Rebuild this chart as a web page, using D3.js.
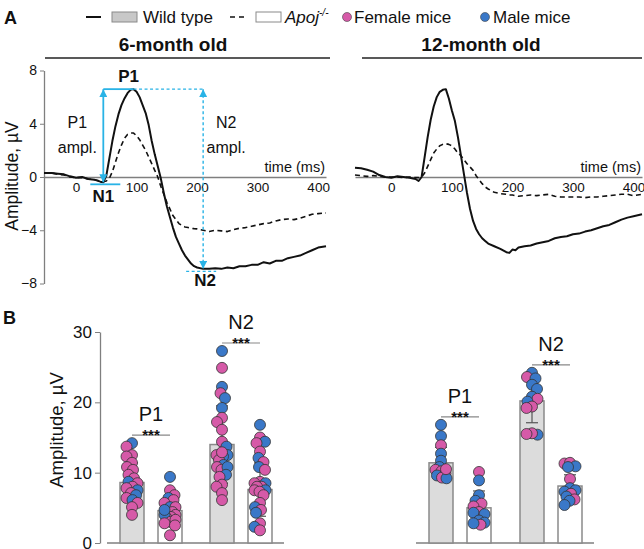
<!DOCTYPE html>
<html><head><meta charset="utf-8">
<script src="https://cdn.jsdelivr.net/npm/d3@7"></script>
<style>body{margin:0;background:#fff} svg{display:block} text{font-family:"Liberation Sans",Arial,sans-serif}</style>
</head><body><svg id="c" width="644" height="549"></svg>
<script>
// ---------- DATA ----------
// Panel A: VEP waveforms (time in ms, amplitude in µV)
const t6 = [-53,-40,-30,-20,-10,0,10,20,30,40,45,50,55,60,65,70,75,80,85,90,95,100,105,110,115,120,125,130,135,140,145,150,155,160,165,170,175,180,185,190,195,200,210,220,230,240,250,260,270,280,290,300,310,320,330,340,350,360,370,380,390,400,413];
const wt6 = [0.3,0.3,0.25,0.2,0.05,-0.05,0.0,-0.15,-0.2,-0.35,-0.4,0.1,1.4,2.7,3.8,4.7,5.4,5.9,6.3,6.55,6.6,6.4,6.0,5.4,4.8,3.9,2.7,1.7,0.8,-0.1,-1.2,-2.2,-3.0,-3.8,-4.5,-5.0,-5.5,-5.9,-6.2,-6.5,-6.7,-6.8,-6.9,-6.9,-6.85,-6.9,-6.8,-6.85,-6.7,-6.7,-6.6,-6.6,-6.4,-6.5,-6.3,-6.3,-6.1,-6.0,-5.9,-5.7,-5.5,-5.3,-5.2];
const ko6 = [0.3,0.3,0.2,0.15,0.0,-0.05,-0.05,-0.15,-0.2,-0.3,-0.35,-0.3,-0.1,0.4,1.1,1.8,2.4,2.9,3.2,3.3,3.3,3.1,2.8,2.4,2.0,1.5,1.0,0.5,0.0,-0.7,-1.3,-1.9,-2.4,-2.9,-3.2,-3.5,-3.65,-3.75,-3.8,-3.85,-3.88,-3.9,-4.0,-4.1,-4.0,-4.05,-4.1,-3.95,-3.85,-3.8,-3.7,-3.6,-3.5,-3.45,-3.3,-3.2,-3.15,-3.2,-3.1,-2.95,-2.8,-2.75,-2.7];
const t12 = [-60,-50,-40,-30,-20,-10,0,10,20,30,40,45,50,55,60,65,70,75,80,85,90,95,100,105,110,115,120,125,130,135,140,145,150,155,160,170,180,190,195,200,205,210,220,230,240,250,260,270,280,290,300,310,320,330,340,350,360,370,380,390,400,414];
const wt12 = [0.7,0.65,0.55,0.4,0.15,0.0,-0.05,0.05,0.0,-0.05,-0.15,-0.3,0.0,1.5,3.0,4.3,5.3,6.0,6.4,6.55,6.6,5.9,5.0,4.2,3.0,1.6,0.2,-1.2,-2.4,-3.3,-3.9,-4.3,-4.6,-4.8,-5.0,-5.2,-5.4,-5.65,-5.7,-5.45,-5.5,-5.3,-5.2,-5.15,-5.0,-4.9,-4.8,-4.6,-4.5,-4.45,-4.3,-4.25,-4.1,-4.0,-3.85,-3.7,-3.6,-3.4,-3.2,-3.05,-2.95,-2.8];
const ko12 = [0.15,0.1,0.05,0.1,0.05,0.0,0.0,0.0,-0.05,0.0,-0.05,-0.05,0.0,0.3,0.8,1.3,1.8,2.1,2.35,2.45,2.5,2.45,2.35,2.1,1.8,1.6,1.3,1.0,0.75,0.5,0.1,-0.2,-0.5,-0.75,-0.9,-1.15,-1.25,-1.3,-1.35,-1.35,-1.4,-1.45,-1.4,-1.35,-1.4,-1.35,-1.3,-1.45,-1.5,-1.5,-1.5,-1.5,-1.55,-1.5,-1.5,-1.45,-1.4,-1.35,-1.3,-1.3,-1.4,-1.3];
const timeTicks = [0,100,200,300,400];
const ampTicksA = [-8,-4,0,4,8];

// Panel B: individual amplitudes (µV) and sex (F/M)
const measures = ["P1","N2"];
const genotypes = ["WT","Apoj"];
const wtP1_6 = [14.2,13.7,12.5,12.3,11.4,10.8,10.4,9.7,9.2,8.7,8.5,8.0,7.5,7.8,7.1,6.8,6.4,6.1,5.7,5.1,4.0];
const wtP1_6s = ["M","F","F","F","F","F","F","F","F","M","F","F","M","F","F","M","F","M","F","F","F"];
const koP1_6 = [9.4,7.5,6.8,6.4,6.1,5.7,5.1,5.1,4.3,4.4,4.0,3.7,3.5,4.0,3.0,2.8,1.1,3.3,4.7,2.5];
const koP1_6s = ["M","F","F","M","F","F","M","F","M","F","F","F","F","M","F","F","F","F","M","F"];
const wtN2_6 = [27.3,24.9,22.2,21.3,20.6,19.2,17.8,17.2,16.1,14.4,13.7,12.5,12.5,12.3,11.8,11.1,10.8,10.4,10.8,9.7,9.4,8.3,8.0,7.1,6.1,12.9];
const wtN2_6s = ["M","F","M","F","M","M","F","F","F","F","M","M","F","M","F","M","F","F","M","M","F","F","F","F","F","F"];
const koN2_6 = [16.8,15.0,14.4,14.2,13.0,12.1,11.5,10.8,10.4,8.7,8.5,8.5,8.0,8.0,7.5,7.5,7.3,6.8,5.7,5.1,4.7,2.8,2.3,1.8,4.3];
const koN2_6s = ["M","F","M","F","F","M","F","M","F","F","M","F","F","F","M","F","F","F","F","M","F","F","M","F","M"];
const wtP1_12 = [16.8,15.2,13.9,12.7,11.7,10.8,10.4,10.2,9.9,9.6,9.3,9.2,10.5];
const wtP1_12s = ["M","M","F","M","M","M","F","F","F","M","F","M","F"];
const koP1_12 = [10.1,8.9,6.8,6.0,5.6,5.2,4.4,4.3,4.1,3.2,2.9,2.6,2.8];
const koP1_12s = ["F","M","M","M","F","F","F","M","M","M","M","F","M"];
const wtN2_12 = [24.2,23.6,23.4,22.5,21.9,20.8,20.5,20.1,19.4,19.2,15.4,15.6,15.5];
const wtN2_12s = ["M","F","M","M","M","M","F","M","F","F","M","F","F"];
const koN2_12 = [11.3,11.4,10.9,10.8,9.1,7.8,7.5,7.3,7.0,6.6,6.2,6.0,5.4];
const koN2_12s = ["F","F","M","M","F","M","M","M","F","M","F","M","M"];
// bar means and SD (µV) : [WT P1, Apoj P1, WT N2, Apoj N2]
const mean6 = [8.6,4.6,14.0,7.6];
const sd6 = [2.8,2.0,5.5,3.8];
const mean12 = [11.4,5.0,20.2,8.1];
const sd12 = [2.2,2.4,3.1,1.6];
const ampTicksB = [0,10,20,30];

// ---------- STYLE ----------
const FONT = '"Liberation Sans", Arial, sans-serif';
const CYAN = "#29b3e6", PINK = "#d65aa8", BLUE = "#3a78c8", AX = "#7f7f7f", INK = "#111";
const svg = d3.select("#c");

function txt(x, y, s, o = {}) {
  const t = svg.append("text").attr("x", x).attr("y", y).text(s)
    .attr("font-size", o.size || 16).attr("fill", o.fill || INK)
    .attr("text-anchor", o.anchor || "start");
  if (o.bold) t.attr("font-weight", "bold");
  if (o.italic) t.attr("font-style", "italic");
  return t;
}

// ---------- LEGEND ----------
txt(4, 24, "A", {size: 18, bold: true});
svg.append("line").attr("x1", 86).attr("x2", 101).attr("y1", 17).attr("y2", 17).attr("stroke", INK).attr("stroke-width", 2);
svg.append("rect").attr("x", 112).attr("y", 12).attr("width", 25).attr("height", 10).attr("fill", "#c8c8c8").attr("stroke", "#8a8a8a");
txt(143, 23, "Wild type", {size: 17});
svg.append("line").attr("x1", 230).attr("x2", 247).attr("y1", 17).attr("y2", 17).attr("stroke", INK).attr("stroke-width", 1.6).attr("stroke-dasharray", "5,4");
svg.append("rect").attr("x", 256).attr("y", 12).attr("width", 25).attr("height", 10).attr("fill", "#fff").attr("stroke", "#8a8a8a");
const ap = txt(285, 23, "", {size: 17, italic: true});
ap.append("tspan").text("Apoj");
ap.append("tspan").attr("font-size", 10).attr("dy", -7).text("-/-");
svg.append("circle").attr("cx", 347).attr("cy", 17).attr("r", 4.5).attr("fill", PINK).attr("stroke", "#444").attr("stroke-width", 0.6);
txt(354, 23, "Female mice", {size: 17});
svg.append("circle").attr("cx", 485).attr("cy", 17).attr("r", 4.5).attr("fill", BLUE).attr("stroke", "#444").attr("stroke-width", 0.6);
txt(493, 23, "Male mice", {size: 17});

// headers
txt(173, 51, "6-month old", {size: 19, bold: true, anchor: "middle"});
svg.append("line").attr("x1", 45).attr("x2", 330).attr("y1", 58).attr("y2", 58).attr("stroke", "#222").attr("stroke-width", 1.5);
txt(481, 51, "12-month old", {size: 19, bold: true, anchor: "middle"});
svg.append("line").attr("x1", 362).attr("x2", 642).attr("y1", 58).attr("y2", 58).attr("stroke", "#222").attr("stroke-width", 1.5);

// ---------- PANEL A ----------
const yA = d3.scaleLinear().domain([-8, 8]).range([283.5, 70.5]);
const xA1 = d3.scaleLinear().domain([-53, 413]).range([44, 326]);
const xA2 = d3.scaleLinear().domain([-60, 414]).range([355, 642]);

function styleAxis(g, size) {
  g.attr("font-family", FONT).attr("font-size", size);
  g.select(".domain").attr("stroke", AX);
  g.selectAll(".tick line").attr("stroke", AX);
  g.selectAll(".tick text").attr("fill", INK);
}

[xA1, xA2].forEach(xs => {
  const g = svg.append("g").attr("transform", `translate(0,${yA(0)})`)
    .call(d3.axisBottom(xs).tickValues(timeTicks).tickSize(0).tickPadding(5).tickSizeOuter(0));
  styleAxis(g, 13.5);
  g.select(".domain").attr("stroke-width", 1.5);
  txt(xs.range()[1] - 1, 172, "time (ms)", {size: 14.5, anchor: "end"});
});

const gyA = svg.append("g").attr("transform", `translate(${xA1.range()[0]},0)`)
  .call(d3.axisLeft(yA).tickValues(ampTicksA).tickSize(4).tickPadding(3).tickSizeOuter(0));
styleAxis(gyA, 14);
gyA.select(".domain").attr("stroke-width", 1.3);
svg.append("text").attr("transform", "translate(18,176) rotate(-90)").attr("text-anchor", "middle")
  .attr("font-size", 17.5).attr("fill", INK).text("Amplitude, µV");

function wave(xs, t, v, dashed) {
  const line = d3.line().x((d, i) => xs(t[i])).y(d => yA(d));
  svg.append("path").datum(v).attr("d", line).attr("fill", "none")
    .attr("stroke", INK).attr("stroke-width", dashed ? 1.6 : 2)
    .attr("stroke-linejoin", "round")
    .attr("stroke-dasharray", dashed ? "5,3.5" : null);
}
wave(xA1, t6, ko6, true);
wave(xA1, t6, wt6, false);
wave(xA2, t12, ko12, true);
wave(xA2, t12, wt12, false);

// annotations (from WT 6-month waveform)
const defs = svg.append("defs");
defs.append("marker").attr("id", "arr").attr("viewBox", "0 0 10 10").attr("refX", 10).attr("refY", 5)
  .attr("markerWidth", 8).attr("markerHeight", 8).attr("markerUnits", "userSpaceOnUse")
  .attr("orient", "auto-start-reverse")
  .append("path").attr("d", "M0,0L10,5L0,10z").attr("fill", CYAN);

const iP1 = d3.maxIndex(wt6);
const iN1 = d3.minIndex(wt6.slice(0, iP1));
const iN2 = iP1 + d3.minIndex(wt6.slice(iP1));
const xN1 = xA1(t6[iN1]), xP1 = xA1(t6[iP1]), xN2 = xA1(t6[iN2]);
const yN1 = yA(wt6[iN1]), yP1 = yA(wt6[iP1]), yN2 = yA(wt6[iN2]);
function seg(x1, y1, x2, y2, dashed, arrows) {
  const l = svg.append("line").attr("x1", x1).attr("y1", y1).attr("x2", x2).attr("y2", y2)
    .attr("stroke", CYAN).attr("stroke-width", dashed ? 1.4 : 1.8);
  if (dashed) l.attr("stroke-dasharray", "3,2.5");
  if (arrows) l.attr("marker-start", "url(#arr)").attr("marker-end", "url(#arr)");
}
seg(xN1, yP1, xP1, yP1, false, false);
seg(xN1 - 13, yN1 + 2, xN1 + 17, yN1 + 2, false, false);
seg(xN1, yN1, xN1, yP1, false, true);
seg(xP1, yP1, xN2, yP1, true, false);
seg(xN2 - 17, yN2 + 2.5, xN2 + 13, yN2 + 2.5, true, false);
seg(xN2, yP1, xN2, yN2, true, true);

txt(xP1 - 5, yP1 - 7, "P1", {size: 17, bold: true, anchor: "middle"});
txt(xN1, yN1 + 20, "N1", {size: 17, bold: true, anchor: "middle"});
txt(xN2 + 2, yN2 + 17, "N2", {size: 17, bold: true, anchor: "middle"});
txt(xN1 - 26, 128, "P1", {size: 16, anchor: "middle"});
txt(xN1 - 26, 153, "ampl.", {size: 16, anchor: "middle"});
txt(xN2 + 23, 128, "N2", {size: 16, anchor: "middle"});
txt(xN2 + 23, 153, "ampl.", {size: 16, anchor: "middle"});

// ---------- PANEL B ----------
txt(3, 324, "B", {size: 18, bold: true});
const yB = d3.scaleLinear().domain([0, 30]).range([543, 332]);
const gyB = svg.append("g").attr("transform", "translate(100,0)")
  .call(d3.axisLeft(yB).tickValues(ampTicksB).tickSize(5).tickPadding(3).tickSizeOuter(0));
styleAxis(gyB, 17);
gyB.select(".domain").attr("stroke-width", 1.3);
svg.append("text").attr("transform", "translate(63,430) rotate(-90)").attr("text-anchor", "middle")
  .attr("font-size", 18.5).attr("fill", INK).text("Amplitude, µV");

const inner = d3.scalePoint().domain(genotypes).range([-19, 19]);
const BW = 24;

function swarm(vals, cx, minD, maxOff) {
  const pts = vals.map((v, i) => ({v, i, y: yB(v), x: cx}));
  const order = pts.slice().sort((a, b) => a.y - b.y);
  const placed = [];
  order.forEach((p, k) => {
    let chosen = null, best = -1, bestOff = 0;
    const sgn = k % 2 ? -1 : 1;
    for (let s = 0; s <= maxOff * 2; s++) {
      const mag = Math.ceil(s / 2) * 0.5;
      const off = (s % 2 ? sgn : -sgn) * mag;
      let md = Infinity;
      placed.forEach(q => { md = Math.min(md, Math.hypot(q.x - (cx + off), q.y - p.y)); });
      if (md >= minD) { chosen = off; break; }
      if (md > best) { best = md; bestOff = off; }
    }
    p.x = cx + (chosen === null ? bestOff : chosen);
    placed.push(p);
  });
  return pts;
}

function panelB(xOuter, groups, means, sds) {
  const r = xOuter.range();
  svg.append("line").attr("x1", r[0] - 44).attr("x2", r[1] + 43).attr("y1", yB(0)).attr("y2", yB(0))
    .attr("stroke", AX).attr("stroke-width", 1.5);
  const cells = [];
  measures.forEach((m, mi) => genotypes.forEach((g, gi) => {
    const k = mi * 2 + gi;
    cells.push({m, g, cx: xOuter(m) + inner(g), mean: means[k], sd: sds[k], vals: groups[k][0], sex: groups[k][1]});
  }));
  cells.forEach(c => {
    svg.append("rect").attr("x", c.cx - BW / 2).attr("width", BW)
      .attr("y", yB(c.mean)).attr("height", yB(0) - yB(c.mean))
      .attr("fill", c.g === "WT" ? "#dcdcdc" : "#fff").attr("stroke", "#8a8a8a").attr("stroke-width", 1.5);
  });
  cells.forEach(c => {
    const e = svg.append("g").attr("stroke", "#555").attr("stroke-width", 1.2);
    e.append("line").attr("x1", c.cx).attr("x2", c.cx).attr("y1", yB(c.mean - c.sd)).attr("y2", yB(c.mean + c.sd));
    [c.mean - c.sd, c.mean + c.sd].forEach(v =>
      e.append("line").attr("x1", c.cx - 6).attr("x2", c.cx + 6).attr("y1", yB(v)).attr("y2", yB(v)));
  });
  cells.forEach(c => {
    const pts = swarm(c.vals, c.cx, 6.5, 11);
    svg.append("g").selectAll("circle").data(pts).join("circle")
      .attr("cx", d => d.x).attr("cy", d => d.y).attr("r", 5.5)
      .attr("fill", d => c.sex[d.i] === "F" ? PINK : BLUE)
      .attr("stroke", "#333").attr("stroke-width", 0.8);
  });
  measures.forEach((m, mi) => {
    const a = cells[mi * 2], b = cells[mi * 2 + 1];
    const top = d3.max(a.vals.concat(b.vals));
    const ly = yB(top) - 8;
    svg.append("line").attr("x1", a.cx).attr("x2", b.cx).attr("y1", ly).attr("y2", ly)
      .attr("stroke", "#888").attr("stroke-width", 1.2);
    txt((a.cx + b.cx) / 2, ly + 5, "***", {size: 15, bold: true, anchor: "middle"});
    txt((a.cx + b.cx) / 2, ly - 14, m, {size: 20, anchor: "middle"});
  });
}

panelB(d3.scalePoint().domain(measures).range([151, 241]),
  [[wtP1_6, wtP1_6s], [koP1_6, koP1_6s], [wtN2_6, wtN2_6s], [koN2_6, koN2_6s]], mean6, sd6);
panelB(d3.scalePoint().domain(measures).range([460, 551]),
  [[wtP1_12, wtP1_12s], [koP1_12, koP1_12s], [wtN2_12, wtN2_12s], [koN2_12, koN2_12s]], mean12, sd12);
</script></body></html>
